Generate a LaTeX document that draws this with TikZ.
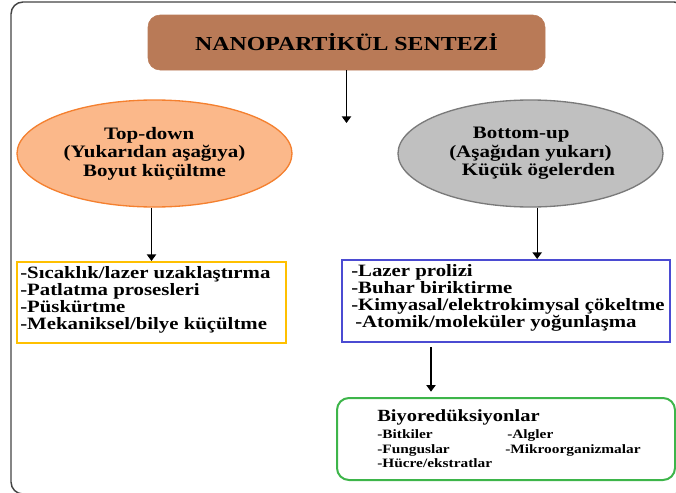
\documentclass[tikz,border=0pt]{standalone}
\usepackage{fontspec}
\setmainfont{Liberation Serif}[FakeStretch=1.2]
\usetikzlibrary{arrows.meta,positioning,shapes.geometric}
\definecolor{clay}{HTML}{B97A57}
\definecolor{peach}{HTML}{FBB88A}
\definecolor{tangerine}{HTML}{F4802F}
\definecolor{silver}{HTML}{C0C0C0}
\definecolor{slate}{HTML}{7A7A7A}
\definecolor{amber}{HTML}{FFC000}
\definecolor{cobalt}{HTML}{4B4BD2}
\definecolor{leaf}{HTML}{3DB54A}
\definecolor{bk80}{HTML}{444444}
\tikzset{
  titlebox/.style={
    rectangle, rounded corners=9pt, fill=clay, draw=clay,
    minimum width=297.75pt, minimum height=41.25pt,
    font=\fontsize{14.9}{16}\selectfont\bfseries, inner sep=0pt
  },
  routeell/.style={
    ellipse, draw=#1, line width=1pt,
    font=\fontsize{13.1}{13.9}\selectfont\bfseries, align=center,
    inner sep=0pt
  },
  routeell/.default=slate,
  listbox/.style={
    rectangle, draw=#1, line width=1.5pt, inner sep=0pt
  },
  listbox/.default=amber,
  listtext/.style={
    font=\fontsize{13}{12.75}\selectfont\bfseries, align=left, inner sep=0pt
  },
  biobox/.style={
    rectangle, rounded corners=9pt, draw=leaf, line width=1.5pt, inner sep=0pt
  },
  biotext/.style={
    font=\fontsize{9.6}{11.25}\selectfont\bfseries, align=left, inner sep=0pt
  },
  flowarrow/.style={
    -{Triangle[length=5pt, width=7pt]}, line width=1pt, color=black
  },
}
\begin{document}
\begin{tikzpicture}[x=0.75pt, y=-0.75pt]
    \useasboundingbox (0,0) rectangle (676,493);
    \draw[bk80, line width=1.1pt, rounded corners=9pt] (11,2) rectangle (686,494);
    \node[titlebox] (synth) at (346.5,42.5) {NANOPARTİKÜL SENTEZİ};
    \coordinate (split) at (346.5,123);
    \node[routeell=tangerine, fill=peach, minimum width=206.25pt, minimum height=80.25pt] (topdown) at (154.5,153.5)
      {\hspace*{-8pt}Top-down\\(Yukarıdan aşağıya)\\Boyut küçültme};
    \node[routeell=slate, fill=silver, minimum width=198.75pt, minimum height=80.25pt] (bottomup) at (530.5,153.5)
      {\hspace*{-14pt}Bottom-up\\(Aşağıdan yukarı)\\\hspace*{12pt}Küçük ögelerden};
    \node[listbox=amber, minimum width=201.75pt, minimum height=60.75pt] (tdbox) at (151.5,302.5) {};
    \node[listtext, right=3pt of tdbox.west, yshift=2pt] (tdlist)
      {-Sıcaklık/lazer uzaklaştırma\\-Patlatma prosesleri\\-Püskürtme\\-Mekaniksel/bilye küçültme};
    \node[listbox=cobalt, minimum width=246pt, minimum height=61.5pt] (bubox) at (506,301) {};
    \node[listtext, right=7.5pt of bubox.west, yshift=2pt] (bulist)
      {-Lazer prolizi\\-Buhar biriktirme\\-Kimyasal/elektrokimysal çökeltme\\\hspace*{3pt}-Atomik/moleküler yoğunlaşma};
    \node[biobox, minimum width=253.5pt, minimum height=61.5pt] (bio) at (506,439) {};
    \node[biotext, right=30.75pt of bio.west] (biolist)
      {{\fontsize{12.8}{14}\selectfont Biyoredüksiyonlar}\\[1.5pt]
       \makebox[97.5pt][l]{-Bitkiler}-Algler\\
       \makebox[96pt][l]{-Funguslar}-Mikroorganizmalar\\[-0.75pt]
       -Hücre/ekstratlar};
    \draw[flowarrow] (synth.south) -- (split);
    \draw[flowarrow] (topdown.south -| tdbox.north) -- (tdbox.north);
    \draw[flowarrow] ([xshift=5pt]bottomup.south) -- ([xshift=5pt]bottomup.south |- bubox.north);
    \draw[flowarrow, shorten <=3pt, shorten >=4pt] ([xshift=-56.25pt]bubox.south) -- ([xshift=-56.25pt]bubox.south |- bio.north);
\end{tikzpicture}
\end{document}
